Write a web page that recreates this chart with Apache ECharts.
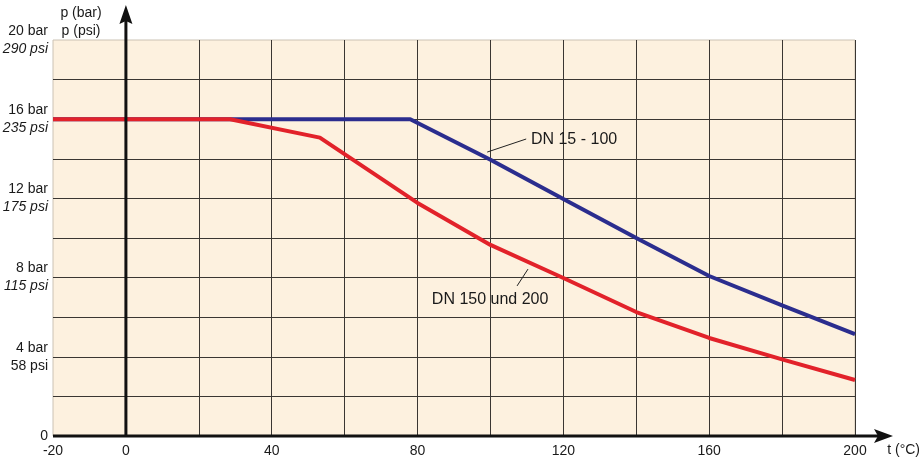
<!DOCTYPE html>
<html>
<head>
<meta charset="utf-8">
<script src="https://cdn.jsdelivr.net/npm/echarts@6/dist/echarts.min.js"></script>
<style>
html,body{margin:0;padding:0;background:#fff;}
#c{width:921px;height:458px;}
</style>
</head>
<body>
<div id="c"></div>
<script>
// ---- data ----
const blueX = [-20, 78, 100, 120, 140, 160, 180, 200];
const blueY = [16, 16, 13.95, 11.97, 10.0, 8.08, 6.6, 5.14];
const redX = [-20, 28.6, 53.2, 80, 100, 120, 140, 160, 180, 200];
const redY = [16, 16, 15.07, 11.77, 9.65, 7.98, 6.26, 4.95, 3.87, 2.83];
const xTickLabels = ['-20', '0', '40', '80', '120', '160', '200'];
const yTickValues = [0, 4, 8, 12, 16, 20];
const barLabels = ['0', '4 bar', '8 bar', '12 bar', '16 bar', '20 bar'];
const psiLabels = ['', '58 psi', '115 psi', '175 psi', '235 psi', '290 psi'];
const psiItalic = [false, false, true, true, true, true];
const seriesNames = ['DN 15 - 100', 'DN 150 und 200'];
const xAxisTitle = 't (°C)';
const yAxisTitle = 'p (bar)\np (psi)';

const chart = echarts.init(document.getElementById('c'), null, {renderer: 'canvas'});
const FONT = 'Liberation Sans, Arial, sans-serif';

function zip(xs, ys) { return xs.map((x, i) => [x, ys[i]]); }

chart.setOption({
  animation: false,
  backgroundColor: '#ffffff',
  grid: {
    left: 53, right: 66, top: 40, bottom: 22,
    containLabel: false, outerBoundsMode: 'none',
    show: true, backgroundColor: '#fdf1df', borderColor: '#cbc2b4', borderWidth: 1
  },
  xAxis: {
    type: 'value', min: -20, max: 200, interval: 20,
    axisLine: {show: false},
    axisTick: {show: false},
    splitLine: {show: true, showMinLine: false, lineStyle: {color: '#3a3632', width: 1}},
    axisLabel: {
      margin: 8, fontSize: 14, color: '#1a1a1a', fontFamily: FONT,
      formatter: v => xTickLabels.indexOf(String(v)) >= 0 ? String(v) : ''
    }
  },
  yAxis: {
    type: 'value', min: 0, max: 20, interval: 2,
    axisLine: {show: false},
    axisTick: {show: false},
    splitLine: {show: true, showMaxLine: false, lineStyle: {color: '#3a3632', width: 1}},
    axisLabel: {
      margin: 5, color: '#1a1a1a', fontFamily: FONT,
      formatter: v => {
        const i = yTickValues.indexOf(v);
        if (i < 0) return '';
        if (!psiLabels[i]) return '{a|' + barLabels[i] + '}';
        return '{a|' + barLabels[i] + '}\n{' + (psiItalic[i] ? 'i' : 'a') + '|' + psiLabels[i] + '}';
      },
      rich: {
        a: {fontSize: 14, color: '#1a1a1a', fontFamily: FONT, lineHeight: 18, align: 'right'},
        i: {fontSize: 14, color: '#1a1a1a', fontFamily: FONT, fontStyle: 'italic', lineHeight: 18, align: 'right'}
      }
    }
  },
  series: [
    {
      name: seriesNames[0], type: 'line', data: zip(blueX, blueY),
      symbol: 'none', lineStyle: {color: '#2b2d8e', width: 4}, z: 3
    },
    {
      name: seriesNames[1], type: 'line', data: zip(redX, redY),
      symbol: 'none', lineStyle: {color: '#e2222a', width: 4}, z: 4
    }
  ]
});

// ---- decorations: axes with arrows, axis titles, annotations ----
const p = (x, y) => chart.convertToPixel({gridIndex: 0}, [x, y]);
const o = p(0, 0), bl = p(-20, 0), br = p(200, 0);
const blk = '#111';
const g = [];
// y axis through x = 0 with arrow
g.push({type: 'line', shape: {x1: o[0], y1: o[1], x2: o[0], y2: 20}, style: {stroke: blk, lineWidth: 3}, z: 100});
g.push({type: 'polygon', shape: {points: [[o[0], 5], [o[0] - 6.5, 24], [o[0], 21], [o[0] + 6.5, 24]]}, style: {fill: blk}, z: 100});
// x axis with arrow
g.push({type: 'line', shape: {x1: bl[0], y1: o[1], x2: br[0] + 28, y2: o[1]}, style: {stroke: blk, lineWidth: 3}, z: 100});
g.push({type: 'polygon', shape: {points: [[br[0] + 38, o[1]], [br[0] + 19, o[1] - 7], [br[0] + 23, o[1]], [br[0] + 19, o[1] + 7]]}, style: {fill: blk}, z: 100});
// axis titles
g.push({type: 'text', x: bl[0] + 28, y: 4, style: {text: yAxisTitle, font: '14px ' + FONT, fill: '#1a1a1a', align: 'center', lineHeight: 18}, z: 100});
g.push({type: 'text', x: 920, y: o[1] + 14, style: {text: xAxisTitle, font: '14px ' + FONT, fill: '#1a1a1a', align: 'right', verticalAlign: 'middle'}, z: 100});
// annotation DN 15 - 100
const a1 = p(99.1, 14.34), a2 = p(109.8, 15.0), a3 = p(111.1, 14.95);
g.push({type: 'line', shape: {x1: a1[0], y1: a1[1], x2: a2[0], y2: a2[1]}, style: {stroke: '#222', lineWidth: 1}, z: 100});
g.push({type: 'text', x: a3[0], y: a3[1], style: {text: seriesNames[0], font: '16px ' + FONT, fill: '#1a1a1a', align: 'left', verticalAlign: 'middle'}, z: 100});
// annotation DN 150 und 200
const b1 = p(110.3, 8.43), b2 = p(107.3, 7.58), b3 = p(99.9, 6.87);
g.push({type: 'line', shape: {x1: b1[0], y1: b1[1], x2: b2[0], y2: b2[1]}, style: {stroke: '#222', lineWidth: 1}, z: 100});
g.push({type: 'text', x: b3[0], y: b3[1], style: {text: seriesNames[1], font: '16px ' + FONT, fill: '#1a1a1a', align: 'center', verticalAlign: 'middle'}, z: 100});
chart.setOption({graphic: g});
</script>
</body>
</html>
